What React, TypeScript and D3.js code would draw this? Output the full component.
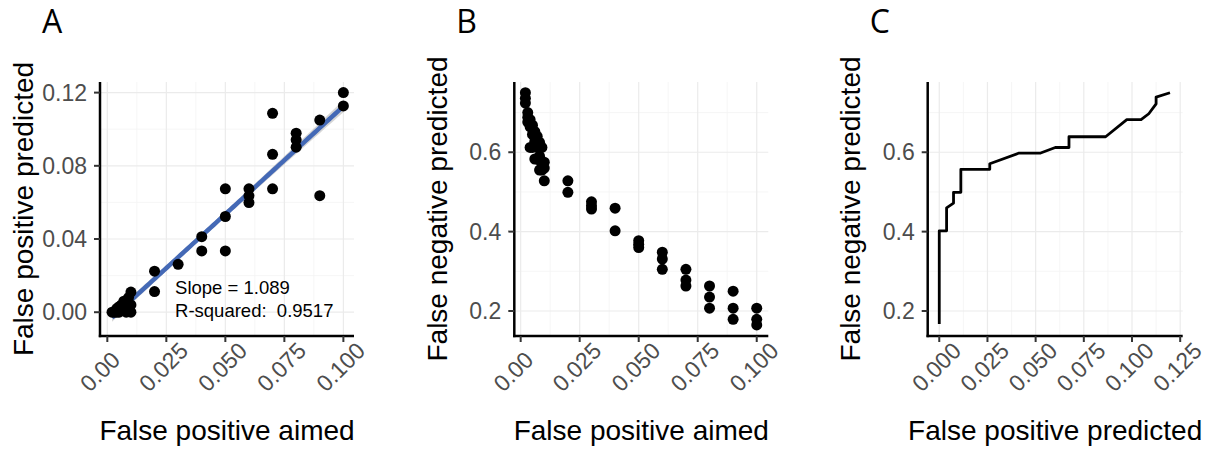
import * as d3 from 'd3';

// Panel A: false positive aimed vs predicted
const aimedA = [
  0.002, 0.003, 0.004, 0.004, 0.005, 0.005, 0.006, 0.006, 0.007, 0.007, 0.008, 0.008, 0.009, 0.009, 0.01, 0.01, 0.01,
  0.02, 0.02, 0.03, 0.04, 0.04, 0.05, 0.05, 0.05, 0.06, 0.06, 0.06, 0.07, 0.07, 0.07, 0.08, 0.08, 0.08, 0.09, 0.09, 0.1, 0.1,
];
const fpPredA = [
  0, 0, 0, 0.002, 0.003, 0, 0.004, 0.001, 0.006, 0.002, 0.005, 0, 0.008, 0.003, 0.011, 0.004, 0,
  0.0224, 0.0113, 0.0262, 0.0413, 0.0335, 0.0674, 0.0523, 0.0335, 0.0674, 0.0636, 0.0599, 0.1087, 0.0863, 0.0674,
  0.0978, 0.0942, 0.0902, 0.105, 0.0637, 0.12, 0.1127,
];
const slopeLabel = 'Slope = 1.089';
const rsqLabel = 'R-squared:  0.9517';
const ciHalfAtMean = 0.0015; // half width of the smooth's band at mean x

// Panel B: false positive aimed vs false negative predicted
const aimedB = [
  0.002, 0.002, 0.002, 0.003, 0.003, 0.003, 0.004, 0.004, 0.004, 0.005, 0.005, 0.005, 0.006, 0.006, 0.006,
  0.007, 0.007, 0.007, 0.008, 0.008, 0.008, 0.009, 0.009, 0.009, 0.01, 0.01, 0.01,
  0.02, 0.02, 0.03, 0.03, 0.03, 0.04, 0.04, 0.05, 0.05, 0.05, 0.06, 0.06, 0.06, 0.07, 0.07, 0.07,
  0.08, 0.08, 0.08, 0.09, 0.09, 0.09, 0.1, 0.1, 0.1,
];
const fnPredB = [
  0.75, 0.736, 0.724, 0.7, 0.688, 0.676, 0.682, 0.664, 0.612, 0.668, 0.645, 0.612, 0.652, 0.628, 0.583,
  0.64, 0.612, 0.583, 0.625, 0.59, 0.555, 0.612, 0.57, 0.555, 0.575, 0.56, 0.528,
  0.528, 0.499, 0.475, 0.465, 0.457, 0.459, 0.402, 0.377, 0.368, 0.36, 0.348, 0.331, 0.305, 0.305, 0.278, 0.263,
  0.263, 0.235, 0.207, 0.25, 0.207, 0.179, 0.207, 0.179, 0.165,
];

// Panel C: false positive predicted vs false negative predicted (line)
const fpPredC = [
  0, 0, 0.0038, 0.0038, 0.0074, 0.0074, 0.0112, 0.0112, 0.0262, 0.0262, 0.0414, 0.0526, 0.0602, 0.0673, 0.0673,
  0.0863, 0.0973, 0.1047, 0.1087, 0.1125, 0.1125, 0.1197,
];
const fnPredC = [
  0.167, 0.402, 0.402, 0.46, 0.472, 0.499, 0.499, 0.557, 0.557, 0.571, 0.598, 0.598, 0.612, 0.612, 0.639,
  0.639, 0.682, 0.682, 0.697, 0.722, 0.739, 0.75,
];

// ticks
const fpAimedTicks = [0, 0.025, 0.05, 0.075, 0.1];
const fpAimedLabels = ['0.00', '0.025', '0.050', '0.075', '0.100'];
const fpPredTicks = [0, 0.04, 0.08, 0.12];
const fpPredLabels = ['0.00', '0.04', '0.08', '0.12'];
const fnTicks = [0.2, 0.4, 0.6];
const fnLabels = ['0.2', '0.4', '0.6'];
const fpPredXTicks = [0, 0.025, 0.05, 0.075, 0.1, 0.125];
const fpPredXLabels = ['0.000', '0.025', '0.050', '0.075', '0.100', '0.125'];

const FONT = "'Liberation Sans', Arial, sans-serif";
const TOP = 82;
const BOTTOM = 336;

const mids = (t: number[]) => t.slice(0, -1).map((v, i) => (v + t[i + 1]) / 2);

type PanelProps = {
  left: number;
  right: number;
  letter: string;
  xDomain: [number, number];
  yDomain: [number, number];
  xTicks: number[];
  xLabels: string[];
  yTicks: number[];
  yLabels: string[];
  xMinor: number[];
  yMinor: number[];
  xTitle: string;
  yTitle: string;
  children: (x: d3.ScaleLinear<number, number>, y: d3.ScaleLinear<number, number>) => any;
};

function Panel(p: PanelProps) {
  const x = d3.scaleLinear().domain(p.xDomain).range([p.left, p.right]);
  const y = d3.scaleLinear().domain(p.yDomain).range([BOTTOM, TOP]);
  const cx = (p.left + p.right) / 2;
  const cy = (TOP + BOTTOM) / 2;
  return (
    <g>
      {p.xMinor.map((v) => (
        <line key={'xm' + v} x1={x(v)} x2={x(v)} y1={TOP} y2={BOTTOM} stroke="#f4f4f4" strokeWidth={0.8} />
      ))}
      {p.yMinor.map((v) => (
        <line key={'ym' + v} x1={p.left} x2={p.right} y1={y(v)} y2={y(v)} stroke="#f4f4f4" strokeWidth={0.8} />
      ))}
      {p.xTicks.map((v) => (
        <line key={'xg' + v} x1={x(v)} x2={x(v)} y1={TOP} y2={BOTTOM} stroke="#ebebeb" strokeWidth={1.2} />
      ))}
      {p.yTicks.map((v) => (
        <line key={'yg' + v} x1={p.left} x2={p.right} y1={y(v)} y2={y(v)} stroke="#ebebeb" strokeWidth={1.2} />
      ))}
      {p.children(x, y)}
      {/* axes */}
      <line x1={p.left} x2={p.left} y1={TOP} y2={BOTTOM + 1.2} stroke="#000" strokeWidth={2.5} />
      <line x1={p.left - 1.2} x2={p.right} y1={BOTTOM} y2={BOTTOM} stroke="#000" strokeWidth={2.5} />
      {p.xTicks.map((v, i) => (
        <g key={'xt' + v}>
          <line x1={x(v)} x2={x(v)} y1={BOTTOM} y2={BOTTOM + 6} stroke="#333" strokeWidth={2} />
          <text
            transform={`translate(${x(v) - 17.5},393) rotate(-45)`}
            fontFamily={FONT}
            fontSize={23}
            fill="#4d4d4d"
          >
            {p.xLabels[i]}
          </text>
        </g>
      ))}
      {p.yTicks.map((v, i) => (
        <g key={'yt' + v}>
          <line x1={p.left - 6} x2={p.left} y1={y(v)} y2={y(v)} stroke="#333" strokeWidth={2} />
          <text x={p.left - 13} y={y(v)} dy="0.35em" textAnchor="end" fontFamily={FONT} fontSize={23} fill="#4d4d4d">
            {p.yLabels[i]}
          </text>
        </g>
      ))}
      <text x={cx} y={440} textAnchor="middle" fontFamily={FONT} fontSize={28} fill="#000">
        {p.xTitle}
      </text>
      <text
        transform={`translate(${p.left - 67.5},${cy}) rotate(-90)`}
        textAnchor="middle"
        fontFamily={FONT}
        fontSize={28}
        fill="#000"
      >
        {p.yTitle}
      </text>
      <text x={p.left - 58} y={33} fontFamily="'Open Sans', sans-serif" fontSize={32} fill="#000">
        {p.letter}
      </text>
    </g>
  );
}

function smoothFit() {
  const n = aimedA.length;
  const xm = d3.mean(aimedA)!;
  const ym = d3.mean(fpPredA)!;
  const sxx = d3.sum(aimedA, (v) => (v - xm) ** 2);
  const sxy = d3.sum(aimedA, (v, i) => (v - xm) * (fpPredA[i] - ym));
  const b = sxy / sxx;
  const a = ym - b * xm;
  const [x0, x1] = d3.extent(aimedA) as [number, number];
  const xs = d3.range(0, 81).map((i) => x0 + ((x1 - x0) * i) / 80);
  return xs.map((v) => {
    const fit = a + b * v;
    const h = ciHalfAtMean * Math.sqrt(1 + (n * (v - xm) ** 2) / sxx);
    return { x: v, fit, lo: fit - h, hi: fit + h };
  });
}

export default function App() {
  const band = smoothFit();
  return (
    <svg width={1214} height={450} style={{ position: 'absolute', left: 0, top: 0, background: '#fff' }}>
      <Panel
        left={100}
        right={354}
        letter="A"
        xDomain={[-0.0031, 0.1045]}
        yDomain={[-0.013, 0.1258]}
        xTicks={fpAimedTicks}
        xLabels={fpAimedLabels}
        yTicks={fpPredTicks}
        yLabels={fpPredLabels}
        xMinor={mids(fpAimedTicks)}
        yMinor={mids(fpPredTicks)}
        xTitle="False positive aimed"
        yTitle="False positive predicted"
      >
        {(x, y) => {
          const area = d3
            .area<any>()
            .x((d) => x(d.x))
            .y0((d) => y(d.lo))
            .y1((d) => y(d.hi));
          const line = d3
            .line<any>()
            .x((d) => x(d.x))
            .y((d) => y(d.fit));
          return (
            <g>
              <path d={area(band)!} fill="#999999" fillOpacity={0.4} />
              <path d={line(band)!} fill="none" stroke="#4469b6" strokeWidth={4.5} />
              {aimedA.map((v, i) => (
                <circle key={i} cx={x(v)} cy={y(fpPredA[i])} r={5.5} fill="#000" />
              ))}
              <text x={x(0.0287)} y={y(0.0098)} fontFamily={FONT} fontSize={18.5} fill="#000">
                {slopeLabel}
              </text>
              <text
                x={x(0.0287)}
                y={y(-0.0024)}
                fontFamily={FONT}
                fontSize={18.5}
                fill="#000"
                style={{ whiteSpace: 'pre' }}
              >
                {rsqLabel}
              </text>
            </g>
          );
        }}
      </Panel>
      <Panel
        left={514.3}
        right={768.3}
        letter="B"
        xDomain={[-0.0027, 0.1049]}
        yDomain={[0.137, 0.777]}
        xTicks={fpAimedTicks}
        xLabels={fpAimedLabels}
        yTicks={fnTicks}
        yLabels={fnLabels}
        xMinor={mids(fpAimedTicks)}
        yMinor={[0.3, 0.5, 0.7]}
        xTitle="False positive aimed"
        yTitle="False negative predicted"
      >
        {(x, y) => (
          <g>
            {aimedB.map((v, i) => (
              <circle key={i} cx={x(v)} cy={y(fnPredB[i])} r={5.5} fill="#000" />
            ))}
          </g>
        )}
      </Panel>
      <Panel
        left={927.7}
        right={1182.7}
        letter="C"
        xDomain={[-0.006, 0.1263]}
        yDomain={[0.137, 0.777]}
        xTicks={fpPredXTicks}
        xLabels={fpPredXLabels}
        yTicks={fnTicks}
        yLabels={fnLabels}
        xMinor={mids(fpPredXTicks)}
        yMinor={[0.3, 0.5, 0.7]}
        xTitle="False positive predicted"
        yTitle="False negative predicted"
      >
        {(x, y) => {
          const line = d3
            .line<number>()
            .x((v) => x(v))
            .y((_, i) => y(fnPredC[i]));
          return <path d={line(fpPredC)!} fill="none" stroke="#000" strokeWidth={2.8} strokeLinejoin="round" />;
        }}
      </Panel>
    </svg>
  );
}
